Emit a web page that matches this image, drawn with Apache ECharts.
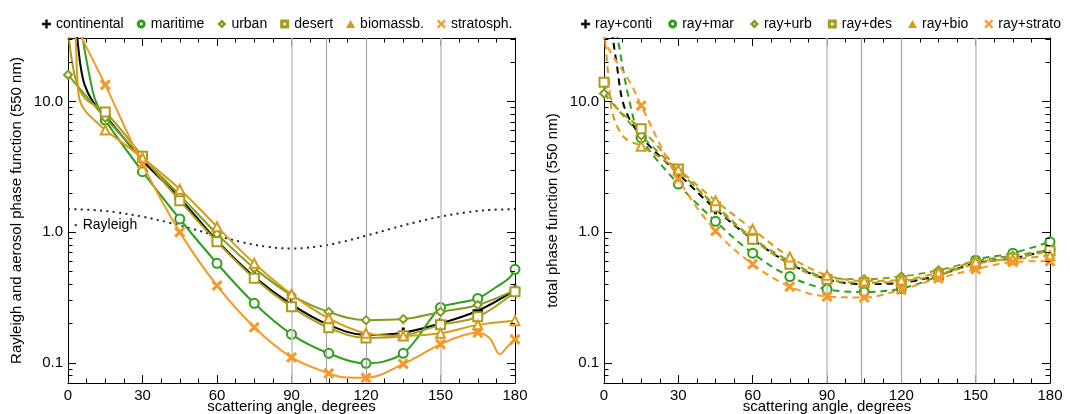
<!DOCTYPE html>
<html>
<head>
<meta charset="utf-8">
<script src="https://cdn.jsdelivr.net/npm/echarts@6/dist/echarts.min.js"></script>
<style>
html,body{margin:0;padding:0;background:#fff;}
#chart{width:1070px;height:414px;}
</style>
</head>
<body>
<div id="chart"></div>
<script>
// ---------------- data ----------------
// Left panel: aerosol phase functions at 550 nm
const contAng = [0, 2, 3.8, 5, 6.7, 10, 15, 30, 45, 60, 75, 90, 105, 120, 135, 150, 165, 180];
const contVal = [150, 60, 30, 19, 13.4, 10, 7.8, 3.55, 1.82, 0.86, 0.456, 0.28, 0.195, 0.163, 0.17, 0.20, 0.25, 0.36];

const marAng = [0, 3, 6, 9.4, 11.2, 15, 30, 45, 60, 75, 90, 105, 120, 127, 135, 141, 145.7, 150, 156.4, 165, 172.5, 177.9, 180];
const marVal = [300, 90, 30, 13.4, 10, 7.2, 2.9, 1.26, 0.577, 0.285, 0.165, 0.118, 0.099, 0.102, 0.118, 0.158, 0.212, 0.265, 0.285, 0.311, 0.38, 0.45, 0.519];

const urbAng = [0, 15, 30, 45, 60, 75, 90, 105, 120, 135, 150, 165, 180];
const urbVal = [16, 7.5, 3.7, 1.92, 0.97, 0.53, 0.33, 0.245, 0.212, 0.216, 0.245, 0.277, 0.36];

const desAng = [0, 3, 7, 15, 30, 45, 60, 75, 90, 105, 120, 135, 150, 165, 180];
const desVal = [35, 15, 10.5, 8.3, 3.8, 1.74, 0.844, 0.443, 0.268, 0.185, 0.155, 0.161, 0.195, 0.225, 0.35];

const bioAng = [0, 2, 3.1, 4.3, 6.7, 12.8, 15, 30, 45, 60, 75, 90, 105, 120, 135, 150, 165, 180];
const bioVal = [200, 60, 30, 11.2, 8.6, 6.6, 6.05, 3.7, 2.13, 1.10, 0.577, 0.334, 0.219, 0.168, 0.16, 0.168, 0.195, 0.21];

const strAng = [0, 5.8, 15, 30, 45, 60, 75, 90, 105, 112, 120, 135, 150, 159.5, 165, 169.8, 173.9, 176.5, 180];
const strVal = [50, 30, 13.4, 3.3, 1.0, 0.389, 0.187, 0.11, 0.083, 0.077, 0.0767, 0.098, 0.139, 0.163, 0.17, 0.154, 0.116, 0.13, 0.151];

const rayAng = [0, 10, 20, 30, 40, 50, 60, 70, 80, 90, 100, 110, 120, 130, 140, 150, 160, 170, 180];
const rayVal = [1.5, 1.477, 1.412, 1.3125, 1.19, 1.06, 0.9375, 0.838, 0.773, 0.75, 0.773, 0.838, 0.9375, 1.06, 1.19, 1.3125, 1.412, 1.477, 1.5];

// Right panel: total (Rayleigh + aerosol) phase functions
const rcontAng = [0, 2, 3.5, 5, 8.2, 15, 30, 45, 60, 75, 90, 105, 120, 135, 150, 165, 180];
const rcontVal = [80, 45, 31, 20, 9.1, 5.4, 2.8, 1.5, 0.88, 0.575, 0.436, 0.40, 0.41, 0.468, 0.58, 0.63, 0.73];

const rmarAng = [0, 3, 5.6, 10.3, 15, 30, 45, 60, 75, 90, 105, 120, 135, 150, 165, 180];
const rmarVal = [150, 60, 30, 10, 5.26, 2.33, 1.21, 0.69, 0.457, 0.366, 0.348, 0.37, 0.46, 0.61, 0.69, 0.843];

const rurbAng = [0, 15, 30, 45, 60, 75, 90, 105, 120, 135, 150, 165, 180];
const rurbVal = [11.5, 5.5, 2.95, 1.6, 0.9, 0.6, 0.45, 0.436, 0.457, 0.51, 0.6, 0.66, 0.73];

const rdesAng = [0, 5, 15, 30, 45, 60, 75, 90, 105, 120, 135, 150, 165, 180];
const rdesVal = [14, 9, 6.17, 3.04, 1.56, 0.883, 0.568, 0.436, 0.41, 0.42, 0.47, 0.57, 0.63, 0.72];

const rbioAng = [0, 0.7, 2, 3.5, 8.2, 15, 30, 45, 60, 75, 90, 105, 120, 135, 150, 165, 180];
const rbioVal = [35, 26, 14, 8.0, 5.3, 4.55, 3.0, 1.74, 1.05, 0.645, 0.468, 0.423, 0.43, 0.49, 0.59, 0.62, 0.66];

const rstrAng = [0, 1.5, 10.8, 15, 30, 45, 60, 75, 90, 105, 120, 135, 150, 165, 180];
const rstrVal = [32, 26, 13.7, 9.3, 2.55, 1.02, 0.568, 0.383, 0.321, 0.316, 0.363, 0.442, 0.52, 0.59, 0.60];

const yMajor = [0.1, 1, 10];
const yMinor = [0.08, 0.09, 0.2, 0.3, 0.4, 0.5, 0.6, 0.7, 0.8, 0.9, 2, 3, 4, 5, 6, 7, 8, 9, 20, 30];
const guideAngles = [90, 104, 120, 150];

const leftNames = ['continental', 'maritime', 'urban', 'desert', 'biomassb.', 'stratosph.'];
const rightNames = ['ray+conti', 'ray+mar', 'ray+urb', 'ray+des', 'ray+bio', 'ray+strato'];

// ---------------- styling ----------------
const FONT = '"Liberation Sans", Arial, Helvetica, sans-serif';
const COLORS = ['#000000', '#2f9e1c', '#7d9e1e', '#a89c1e', '#d49c1c', '#f5992a'];
const PLUS = 'path://M4.15,0H5.85V4.15H10V5.85H5.85V10H4.15V5.85H0V4.15H4.15Z';
const CROSS = 'path://M1.2,0L5,3.8L8.8,0L10,1.2L6.2,5L10,8.8L8.8,10L5,6.2L1.2,10L0,8.8L3.8,5L0,1.2Z';
const PLUS_L = 'path://M3.7,0H6.3V3.7H10V6.3H6.3V10H3.7V6.3H0V3.7H3.7Z';
const CROSS_L = 'path://M1.8,0L5,3.2L8.2,0L10,1.8L6.8,5L10,8.2L8.2,10L5,6.8L1.8,10L0,8.2L3.2,5L0,1.8Z';
const RING_L = 'path://M5,0A5,5,0,1,1,5,10A5,5,0,1,1,5,0ZM5,3.4A1.6,1.6,0,1,0,5,6.6A1.6,1.6,0,1,0,5,3.4Z';
const DIAM_L = 'path://M5,0L10,5L5,10L0,5ZM5,3.8L3.8,5L5,6.2L6.2,5Z';
const SQR_L = 'path://M0,0H10V10H0ZM3.6,3.6V6.4H6.4V3.6Z';
const TRI_L = 'path://M5,0.5L10,9.5H0Z';
const SYMS = [PLUS, 'emptyCircle', 'emptyDiamond', 'emptyRect', 'emptyTriangle', CROSS];
const LEG_ICONS = [PLUS_L, RING_L, DIAM_L, SQR_L, TRI_L, CROSS_L];
const SIZES = [9, 9, 8, 9, 9, 9];

const leftData = [[contAng, contVal], [marAng, marVal], [urbAng, urbVal], [desAng, desVal], [bioAng, bioVal], [strAng, strVal]];
const rightData = [[rcontAng, rcontVal], [rmarAng, rmarVal], [rurbAng, rurbVal], [rdesAng, rdesVal], [rbioAng, rbioVal], [rstrAng, rstrVal]];

function pairs(a, v) { return a.map((x, i) => [x, v[i]]); }

const Y_MIN = 0.07, Y_MAX = 30.6;
const axLine = () => ({ show: true, onZero: false, lineStyle: { color: '#000', width: 1 } });

function xBase(gi) {
  return {
    type: 'value', gridIndex: gi, min: 0, max: 180, interval: 30,
    axisLine: axLine(), splitLine: { show: false },
    axisTick: { show: true, inside: true, length: 8, lineStyle: { color: '#000' } },
    minorTick: { show: true, splitNumber: 4, length: 4.5, lineStyle: { color: '#000' } },
  };
}
function xAxes(gi) {
  return [
    Object.assign(xBase(gi), {
      position: 'bottom',
      axisLabel: { show: true, fontSize: 15, color: '#000', fontFamily: FONT, margin: 5 },
      name: 'scattering angle, degrees', nameLocation: 'middle', nameGap: 16, nameMoveOverlap: false,
      nameTextStyle: { fontSize: 15, color: '#000', fontFamily: FONT, verticalAlign: 'top' },
    }),
    Object.assign(xBase(gi), { position: 'top', axisLabel: { show: false } }),
  ];
}
function yAxes(gi, name) {
  const common = { type: 'log', logBase: 10, gridIndex: gi, min: Y_MIN, max: Y_MAX, splitLine: { show: false } };
  const major = () => ({ show: true, inside: true, length: 8, customValues: yMajor, lineStyle: { color: '#000' } });
  return [
    Object.assign({}, common, {
      position: 'left', axisLine: axLine(), axisTick: major(),
      axisLabel: { show: true, customValues: yMajor, fontSize: 15, color: '#000', fontFamily: FONT, margin: 5,
                   formatter: v => Number(v).toFixed(1) },
      name: name, nameLocation: 'middle', nameGap: 44,
      nameTextStyle: { fontSize: 15, color: '#000', fontFamily: FONT },
    }),
    Object.assign({}, common, { position: 'right', axisLine: axLine(), axisTick: major(), axisLabel: { show: false } }),
  ];
}

const series = [];

// minor log ticks drawn on both vertical frame edges, positioned by the axis scale
function minorTickSeries(gi) {
  return {
    type: 'custom', name: 'minorTicks' + gi, xAxisIndex: gi * 2, yAxisIndex: gi * 2,
    coordinateSystem: 'cartesian2d', silent: true, clip: false, z: 10,
    encode: { x: 0, y: 1 },
    data: yMinor.map(v => [0, v]),
    renderItem: function (params, api) {
      const v = api.value(1);
      const a = api.coord([0, v]);
      const b = api.coord([180, v]);
      const st = { stroke: '#000', lineWidth: 1 };
      return {
        type: 'group', children: [
          { type: 'line', shape: { x1: a[0], y1: Math.round(a[1]) + 0.5, x2: a[0] + 4.5, y2: Math.round(a[1]) + 0.5 }, style: st },
          { type: 'line', shape: { x1: b[0], y1: Math.round(b[1]) + 0.5, x2: b[0] - 4.5, y2: Math.round(b[1]) + 0.5 }, style: st },
        ],
      };
    },
  };
}

function guideSeries(gi) {
  return {
    type: 'line', name: 'guides' + gi, xAxisIndex: gi * 2, yAxisIndex: gi * 2, data: [], z: 1, silent: true,
    markLine: {
      silent: true, symbol: ['none', 'none'], label: { show: false }, animation: false,
      data: guideAngles.map(a => ({ xAxis: a, lineStyle: { color: (a === 90 || a === 150) ? '#c4c4c4' : '#a0a0a0', width: (a === 90 || a === 150) ? 1.6 : 1.1, type: 'solid' } })),
    },
  };
}
series.push(guideSeries(0));
series.push(guideSeries(1));
series.push(minorTickSeries(0));
series.push(minorTickSeries(1));

series.push({
  type: 'line', name: 'Rayleigh', xAxisIndex: 0, yAxisIndex: 0, data: pairs(rayAng, rayVal),
  smooth: 0.4, symbol: 'none', z: 2,
  lineStyle: { color: '#222', width: 2, type: [2, 4.4] },
  markPoint: {
    silent: true, animation: false,
    data: [{ coord: [3.1, 1.13], symbol: 'rect', symbolSize: 2, itemStyle: { color: '#222' },
             label: { show: true, position: 'right', distance: 6, formatter: 'Rayleigh', color: '#000', fontSize: 14, fontFamily: FONT } }],
  },
});

function addSeries(names, data, gi, dashed) {
  names.forEach((nm, i) => {
    const sym = SYMS[i];
    series.push({
      type: 'line', name: nm, xAxisIndex: gi * 2, yAxisIndex: gi * 2,
      data: pairs(data[i][0], data[i][1]),
      smooth: 0.35, clip: true, z: 3 + i,
      symbol: (v) => (v[0] % 15 === 0 ? sym : 'none'),
      symbolSize: SIZES[i], showAllSymbol: true,
      lineStyle: { color: COLORS[i], width: 2, type: dashed ? [7, 5] : 'solid' },
      itemStyle: { color: COLORS[i], borderColor: COLORS[i], borderWidth: 1.5 },
      emphasis: { disabled: true },
    });
  });
}
addSeries(leftNames, leftData, 0, false);
addSeries(rightNames, rightData, 1, true);

function legend(names, left, gap) {
  return {
    left: left, top: 12, width: 520, itemWidth: 9, itemHeight: 9, itemGap: gap, selectedMode: false,
    textStyle: { fontSize: 14, color: '#000', fontFamily: FONT },
    data: names.map((n, i) => ({ name: n, icon: LEG_ICONS[i], itemStyle: { color: COLORS[i], borderWidth: 0 } })),
  };
}

const option = {
  animation: false,
  backgroundColor: '#fff',
  grid: [
    { left: 68, right: 555, top: 38, bottom: 31, outerBoundsMode: 'none' },
    { left: 604, right: 20, top: 38, bottom: 31, outerBoundsMode: 'none' },
  ],
  legend: [legend(leftNames, 37, 13), legend(rightNames, 576, 16)],
  xAxis: [...xAxes(0), ...xAxes(1)],
  yAxis: [...yAxes(0, 'Rayleigh and aerosol phase function (550 nm)'), ...yAxes(1, 'total phase function (550 nm)')],
  series: series,
};

const chart = echarts.init(document.getElementById('chart'), null, { renderer: 'canvas' });
chart.setOption(option);
</script>
</body>
</html>
